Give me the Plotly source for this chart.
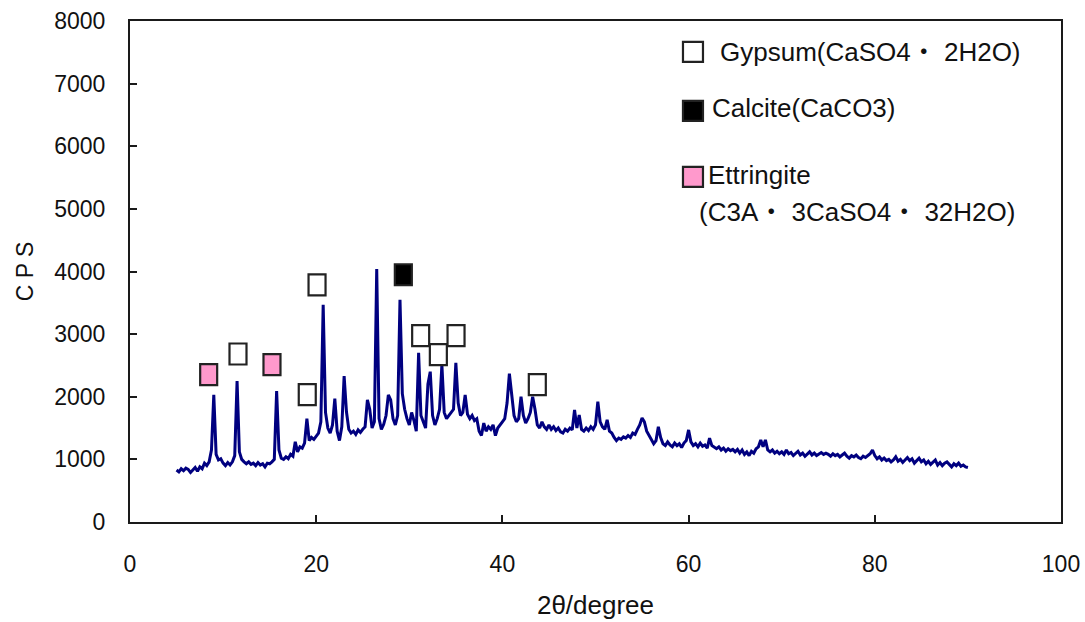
import numpy as np
import plotly.graph_objects as go

# XRD scan: 2-theta from 5 to 90 degrees in 0.25 degree steps
SCAN_START = 5.0
SCAN_STEP = 0.25

# Intensity (CPS), one row per 5 degrees of scan
cps_05_10 = [830, 800, 850, 820, 860, 840, 790, 830, 870, 810, 880, 850, 940, 900, 960, 1150, 2030, 1080, 990, 1010]
cps_10_15 = [940, 900, 950, 910, 960, 1060, 2250, 1120, 1000, 960, 930, 960, 920, 940, 900, 950, 910, 930, 880, 940]
cps_15_20 = [930, 960, 1000, 2090, 1150, 1020, 1000, 1040, 1010, 1080, 1050, 1280, 1120, 1200, 1180, 1260, 1650, 1300, 1350, 1320]
cps_20_25 = [1380, 1420, 1600, 3470, 1750, 1500, 1420, 1550, 1970, 1450, 1300, 1520, 2330, 1760, 1480, 1420, 1450, 1400, 1470, 1430]
cps_25_30 = [1480, 1520, 1950, 1800, 1500, 1600, 4040, 1650, 1480, 1560, 1700, 2030, 1950, 1650, 1550, 1700, 3550, 2050, 1800, 1650]
cps_30_35 = [1550, 1750, 1620, 1450, 2700, 1700, 1600, 1500, 2200, 2400, 1700, 1550, 1650, 1800, 2510, 1750, 1650, 1700, 1750, 1800]
cps_35_40 = [2540, 1900, 1700, 1750, 2030, 1720, 1650, 1700, 1620, 1650, 1450, 1380, 1580, 1450, 1520, 1480, 1550, 1380, 1500, 1560]
cps_40_45 = [1600, 1650, 1900, 2370, 2000, 1700, 1600, 1650, 2000, 1700, 1580, 1650, 1750, 2000, 1800, 1550, 1500, 1600, 1520, 1480]
cps_45_50 = [1550, 1480, 1520, 1460, 1500, 1440, 1420, 1480, 1450, 1500, 1470, 1790, 1500, 1710, 1480, 1450, 1500, 1460, 1520, 1480]
cps_50_55 = [1550, 1920, 1600, 1520, 1480, 1630, 1450, 1420, 1350, 1300, 1340, 1320, 1360, 1340, 1380, 1350, 1420, 1400, 1480, 1550]
cps_55_60 = [1660, 1600, 1450, 1380, 1300, 1250, 1300, 1520, 1350, 1250, 1220, 1280, 1230, 1200, 1260, 1220, 1250, 1190, 1260, 1300]
cps_60_65 = [1470, 1280, 1220, 1250, 1200, 1260, 1210, 1230, 1180, 1340, 1220, 1200, 1170, 1200, 1150, 1180, 1130, 1170, 1140, 1160]
cps_65_70 = [1120, 1160, 1100, 1150, 1080, 1120, 1060, 1130, 1100, 1170, 1200, 1310, 1200, 1310, 1150, 1120, 1150, 1100, 1130, 1090]
cps_70_75 = [1120, 1080, 1150, 1090, 1110, 1060, 1100, 1130, 1070, 1100, 1050, 1090, 1120, 1070, 1100, 1060, 1090, 1110, 1080, 1100]
cps_75_80 = [1080, 1050, 1090, 1060, 1080, 1040, 1070, 1100, 1050, 1020, 1060, 1040, 1070, 1030, 1010, 1050, 1030, 1060, 1090, 1150]
cps_80_85 = [1060, 1010, 1040, 990, 1020, 980, 1000, 960, 990, 1040, 970, 1000, 950, 990, 1030, 980, 1010, 940, 990, 1020]
cps_85_90 = [960, 990, 930, 970, 920, 960, 990, 910, 950, 900, 940, 960, 910, 880, 930, 900, 940, 890, 910, 880, 870]

cps = (cps_05_10 + cps_10_15 + cps_15_20 + cps_20_25 + cps_25_30 + cps_30_35
       + cps_35_40 + cps_40_45 + cps_45_50 + cps_50_55 + cps_55_60 + cps_60_65
       + cps_65_70 + cps_70_75 + cps_75_80 + cps_80_85 + cps_85_90)
two_theta = SCAN_START + SCAN_STEP * np.arange(len(cps))

# Phase identification markers (2-theta, CPS)
gypsum_x = [11.6, 19.04, 20.09, 31.22, 33.12, 35.02, 43.75]
gypsum_y = [2683, 2034, 3788, 2975, 2672, 2975, 2193]
calcite_x = [29.36]
calcite_y = [3948]
ettringite_x = [8.45, 15.25]
ettringite_y = [2353, 2512]

# Legend labels
legend_labels = ["Gypsum(CaSO4・ 2H2O)", "Calcite(CaCO3)", "Ettringite", "(C3A・ 3CaSO4・ 32H2O)"]

FONT = "Liberation Sans, Arial, Noto Sans CJK JP, sans-serif"
FRAME = "#1a1a1a"
PINK = "#ff99cc"

fig = go.Figure()
fig.add_trace(go.Scatter(
    x=two_theta, y=cps, mode="lines",
    line=dict(color="#000080", width=3),
    hoverinfo="skip", showlegend=False,
))

def marker_box(x, y, fill):
    return dict(
        type="rect", xref="x", yref="y",
        xsizemode="pixel", ysizemode="pixel",
        xanchor=x, yanchor=y,
        x0=-8.5, x1=8.5, y0=-10.5, y1=10.5,
        fillcolor=fill, line=dict(color="#222222", width=2.2),
        layer="above",
    )

shapes = []
for x, y in zip(gypsum_x, gypsum_y):
    shapes.append(marker_box(x, y, "white"))
for x, y in zip(calcite_x, calcite_y):
    shapes.append(marker_box(x, y, "black"))
for x, y in zip(ettringite_x, ettringite_y):
    shapes.append(marker_box(x, y, PINK))

def legend_box(px, py, fill):
    return dict(
        type="rect", xref="paper", yref="paper",
        xsizemode="pixel", ysizemode="pixel",
        xanchor=px, yanchor=py,
        x0=-10, x1=10, y0=-10, y1=10,
        fillcolor=fill, line=dict(color="#222222", width=2.2),
    )

shapes.append(legend_box(0.6047, 0.9382, "white"))
shapes.append(legend_box(0.6047, 0.8205, "black"))
shapes.append(legend_box(0.6047, 0.6890, PINK))

annotations = [
    dict(text=legend_labels[0], x=0.6316, y=0.9382),
    dict(text=legend_labels[1], x=0.6230, y=0.8255),
    dict(text=legend_labels[2], x=0.6187, y=0.6930),
    dict(text=legend_labels[3], x=0.6090, y=0.6190),
]
for a in annotations:
    a.update(xref="paper", yref="paper", xanchor="left", yanchor="middle",
             showarrow=False, font=dict(family=FONT, size=26, color="#111111"))

axis_common = dict(
    showline=True, linecolor=FRAME, linewidth=2, mirror=True,
    ticks="inside", ticklen=7, tickwidth=1.5, tickcolor=FRAME,
    showgrid=False, zeroline=False, automargin=False,
    tickfont=dict(family=FONT, size=23, color="#111111"),
)

fig.update_layout(
    width=1085, height=622,
    margin=dict(l=130, r=24, t=21, b=100),
    paper_bgcolor="white", plot_bgcolor="white",
    shapes=shapes, annotations=annotations,
    xaxis=dict(range=[0, 100], tickvals=[0, 20, 40, 60, 80, 100],
               ticklabelstandoff=20,
               title=dict(text="2θ/degree", standoff=20,
                          font=dict(family=FONT, size=26, color="#111111")),
               **axis_common),
    yaxis=dict(range=[0, 8000], tickvals=list(range(0, 8001, 1000)),
               ticklabelstandoff=18,
               title=dict(text="C P S", standoff=14,
                          font=dict(family=FONT, size=23, color="#111111")),
               **axis_common),
)

fig.write_html("out.html")
